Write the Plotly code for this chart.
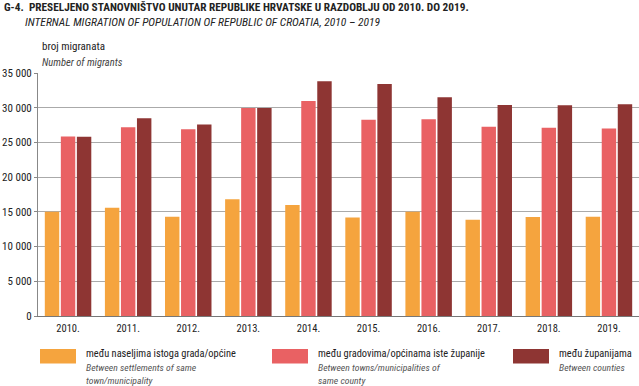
import plotly.graph_objects as go

years = ["2010.", "2011.", "2012.", "2013.", "2014.", "2015.", "2016.", "2017.", "2018.", "2019."]
same_town = [15000, 15600, 14300, 16800, 16000, 14200, 15000, 13850, 14250, 14300]
same_county = [25850, 27200, 26900, 29950, 30950, 28250, 28350, 27250, 27100, 27000]
between_counties = [25800, 28500, 27600, 29950, 33800, 33400, 31500, 30400, 30350, 30500]
y_ticks = [0, 5000, 10000, 15000, 20000, 25000, 30000, 35000]
y_tick_text = ["0", "5 000", "10 000", "15 000", "20 000", "25 000", "30 000", "35 000"]

colors = ["#F5A43E", "#E96163", "#8E3533"]
names = ["među naseljima istoga grada/općine", "među gradovima/općinama iste županije", "među županijama"]
names_en = ["Between settlements of same<br>town/municipality", "Between towns/municipalities of<br>same county", "Between counties"]
series = [same_town, same_county, between_counties]

FONT = "Liberation Sans Narrow, Arial Narrow, Roboto Condensed, Liberation Sans, sans-serif"

fig = go.Figure()
for s, c, n in zip(series, colors, names):
    fig.add_trace(go.Bar(x=years, y=s, name=n, marker=dict(color=c, line=dict(width=0)), showlegend=False))

fig.update_layout(
    width=639, height=386,
    margin=dict(l=38, r=0, t=73, b=70),
    paper_bgcolor="white", plot_bgcolor="white",
    barmode="group", bargap=0.2, bargroupgap=0.1,
    font=dict(family=FONT, size=11, color="#222"),
    xaxis=dict(showgrid=False, showline=True, linecolor="#777", linewidth=1, ticks="",
               tickfont=dict(size=10.5, color="#222"), ticklabelstandoff=2),
    yaxis=dict(range=[0, 35000], tickvals=y_ticks, ticktext=y_tick_text, showgrid=True,
               gridcolor="#aaa", gridwidth=1, showline=True, linecolor="#888", linewidth=1,
               ticks="outside", ticklen=3, tickcolor="#888", zeroline=False,
               tickfont=dict(size=11, color="#222")),
)


def px(x):
    return (x - 38) / 601


def py(y):
    return (386 - y - 70) / 243


anns = [
    dict(x=2, y=7.5, text="<b>G-4.  PRESELJENO STANOVNIŠTVO UNUTAR REPUBLIKE HRVATSKE U RAZDOBLJU OD 2010. DO 2019.</b>", size=11.3),
    dict(x=23, y=21.5, text="<i>INTERNAL MIGRATION OF POPULATION OF REPUBLIC OF CROATIA, 2010 – 2019</i>", size=11.5),
    dict(x=40, y=46.5, text="broj migranata", size=11),
    dict(x=40, y=62, text="<i>Number of migrants</i>", size=10.5, color="#444"),
]
for a in anns:
    fig.add_annotation(xref="paper", yref="paper", x=px(a["x"]), y=py(a["y"]),
                       xanchor="left", yanchor="middle", showarrow=False, align="left",
                       text=a["text"], font=dict(size=a["size"], color=a.get("color", "#222"), family=FONT))

# legend drawn manually
legend_x = [40, 272, 513]
for lx, c, n, ne in zip(legend_x, colors, names, names_en):
    fig.add_shape(type="rect", xref="paper", yref="paper",
                  x0=px(lx), x1=px(lx + 36), y0=py(363.5), y1=py(349),
                  fillcolor=c, line=dict(width=0))
    fig.add_annotation(xref="paper", yref="paper", x=px(lx + 44), y=py(353),
                       xanchor="left", yanchor="middle", showarrow=False, align="left",
                       text=n, font=dict(size=10.4, color="#222", family=FONT))
    two = "<br>" in ne
    fig.add_annotation(xref="paper", yref="paper", x=px(lx + 44), y=py(373.5 if two else 367),
                       xanchor="left", yanchor="middle", showarrow=False, align="left",
                       text="<i>" + ne + "</i>", font=dict(size=9.7, color="#555", family=FONT))

fig.write_html("out.html", config={"displayModeBar": False},
               post_script="document.body.style.margin='0';document.body.style.padding='0';")
